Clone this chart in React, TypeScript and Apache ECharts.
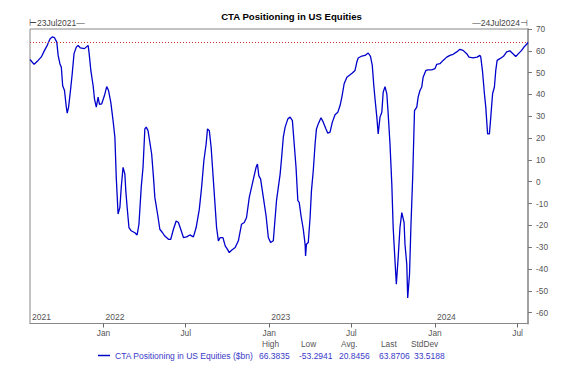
import React, { useEffect, useRef } from 'react';
import * as echarts from 'echarts';

const dates: string[] = [
  '2021-07-23','2021-08-01','2021-08-10','2021-08-17','2021-08-24','2021-08-30','2021-09-05','2021-09-10','2021-09-15','2021-09-20',
  '2021-09-23','2021-09-27','2021-09-30','2021-10-03','2021-10-07','2021-10-11','2021-10-13','2021-10-16','2021-10-21','2021-10-24',
  '2021-10-28','2021-11-02','2021-11-06','2021-11-11','2021-11-20','2021-11-28','2021-11-30','2021-12-04','2021-12-09','2021-12-12',
  '2021-12-16','2021-12-20','2021-12-23','2021-12-28','2022-01-03','2022-01-08','2022-01-12','2022-01-17','2022-01-22','2022-01-26',
  '2022-01-29','2022-02-02','2022-02-06','2022-02-09','2022-02-13','2022-02-17','2022-02-19','2022-02-22','2022-02-26','2022-03-03',
  '2022-03-11','2022-03-16','2022-03-20','2022-03-25','2022-03-29','2022-04-02','2022-04-05','2022-04-09','2022-04-17','2022-04-21',
  '2022-04-24','2022-04-30','2022-05-05','2022-05-11','2022-05-16','2022-05-24','2022-05-29','2022-06-04','2022-06-10','2022-06-15',
  '2022-06-20','2022-06-26','2022-07-03','2022-07-10','2022-07-18','2022-07-24','2022-07-31','2022-08-05','2022-08-10','2022-08-15',
  '2022-08-18','2022-08-22','2022-08-26','2022-08-29','2022-09-02','2022-09-07','2022-09-11','2022-09-15','2022-09-21','2022-09-26',
  '2022-10-01','2022-10-05','2022-10-10','2022-10-18','2022-10-25','2022-11-01','2022-11-07','2022-11-12','2022-11-18','2022-11-23',
  '2022-11-28','2022-12-03','2022-12-06','2022-12-09','2022-12-13','2022-12-19','2022-12-25','2022-12-30','2023-01-04','2023-01-10',
  '2023-01-17','2023-01-21','2023-01-25','2023-01-28','2023-02-01','2023-02-05','2023-02-11','2023-02-16','2023-02-21','2023-02-25',
  '2023-03-01','2023-03-05','2023-03-08','2023-03-12','2023-03-17','2023-03-21','2023-03-22','2023-03-24','2023-03-28','2023-04-01',
  '2023-04-04','2023-04-08','2023-04-12','2023-04-15','2023-04-19','2023-04-25','2023-04-30','2023-05-06','2023-05-10','2023-05-15',
  '2023-05-20','2023-05-26','2023-06-01','2023-06-06','2023-06-10','2023-06-15','2023-06-21','2023-06-26','2023-07-03','2023-07-09',
  '2023-07-13','2023-07-16','2023-07-24','2023-07-31','2023-08-07','2023-08-12','2023-08-16','2023-08-19','2023-08-22','2023-08-26',
  '2023-08-29','2023-09-02','2023-09-06','2023-09-09','2023-09-13','2023-09-17','2023-09-20','2023-09-24','2023-09-28','2023-10-01',
  '2023-10-05','2023-10-08','2023-10-12','2023-10-16','2023-10-20','2023-10-25','2023-10-27','2023-10-31','2023-11-02','2023-11-06',
  '2023-11-09','2023-11-13','2023-11-17','2023-11-22','2023-11-25','2023-11-29','2023-12-03','2023-12-06','2023-12-12','2023-12-17',
  '2023-12-25','2024-01-01','2024-01-05','2024-01-12','2024-01-19','2024-01-27','2024-02-03','2024-02-10','2024-02-18','2024-02-25',
  '2024-03-03','2024-03-11','2024-03-16','2024-03-25','2024-04-03','2024-04-09','2024-04-11','2024-04-15','2024-04-19','2024-04-22',
  '2024-04-26','2024-04-30','2024-05-03','2024-05-07','2024-05-11','2024-05-14','2024-05-17','2024-05-23','2024-05-31','2024-06-07',
  '2024-06-14','2024-06-22','2024-06-27','2024-07-03','2024-07-10','2024-07-15','2024-07-21','2024-07-24',
];

const values: number[] = [
  56.0, 53.8, 55.6, 57.2, 60.2, 62.5, 65.4, 66.38, 66.0, 64.0,
  57.9, 54.0, 52.5, 44.0, 41.8, 34.2, 31.4, 34.2, 43.4, 49.5,
  58.7, 61.7, 62.5, 61.3, 61.0, 62.5, 59.4, 51.0, 44.1, 38.0,
  34.2, 38.8, 35.4, 35.7, 39.5, 43.6, 41.8, 36.4, 28.0, 20.4,
  2.0, -14.8, -11.8, -2.6, 6.6, 3.5, -4.1, -11.8, -21.0, -22.5,
  -23.4, -24.4, -19.5, -2.6, 6.6, 24.2, 25.0, 23.4, 12.7, 2.0,
  -7.2, -14.8, -21.8, -23.4, -24.9, -26.4, -26.4, -21.8, -18.0, -18.7,
  -21.8, -25.6, -25.3, -24.4, -25.3, -21.0, -12.6, -2.6, 9.6, 17.3,
  24.2, 23.4, 15.8, 6.6, -5.7, -21.0, -27.1, -25.6, -25.6, -29.4,
  -31.0, -32.5, -31.4, -30.2, -27.1, -19.5, -18.7, -16.4, -7.2, -2.6,
  2.0, 6.6, 8.1, 2.8, 1.2, -7.2, -15.6, -25.6, -27.9, -27.1,
  -8.7, -2.6, 3.5, 10.4, 20.4, 25.0, 28.8, 29.6, 28.0, 17.3,
  6.6, -8.7, -9.5, -15.6, -21.8, -28.7, -34.0, -28.7, -27.9, -16.4,
  -4.1, 5.0, 17.3, 24.2, 26.5, 29.3, 27.3, 24.2, 22.2, 22.7,
  27.3, 30.7, 31.8, 34.9, 38.8, 44.9, 47.9, 48.7, 49.8, 51.0,
  54.9, 56.7, 57.6, 57.9, 59.0, 57.5, 53.3, 44.9, 38.0, 29.6,
  21.9, 29.6, 31.8, 41.0, 43.6, 40.3, 31.1, 17.3, -1.1, -21.0,
  -36.3, -47.0, -34.8, -21.0, -14.2, -18.7, -28.7, -37.9, -53.29, -42.4,
  -21.0, 2.0, 32.6, 34.2, 38.8, 41.8, 43.4, 47.9, 51.0, 51.3,
  51.3, 51.8, 53.8, 54.1, 55.6, 57.1, 57.9, 58.4, 59.5, 60.7,
  60.2, 58.7, 57.1, 56.8, 57.1, 57.9, 57.1, 50.2, 40.3, 34.2,
  21.9, 21.9, 29.6, 40.3, 43.4, 51.0, 55.6, 56.4, 57.5, 59.5,
  60.0, 58.4, 57.4, 58.7, 60.2, 61.7, 63.0, 63.87,
];

const seriesName = 'CTA Positioning in US Equities ($bn)';
const chartTitle = 'CTA Positioning in US Equities';
const startDate = '2021-07-23';
const endDate = '2024-07-24';
const startLabel = '\u22a223Jul2021\u2014';
const endLabel = '\u201424Jul2024\u22a3';
const monthTicks: string[] = ['2022-01-01', '2022-07-01', '2023-01-01', '2023-07-01', '2024-01-01', '2024-07-01'];
const yearTicks: string[] = ['2021-07-23', '2022-01-01', '2023-01-01', '2024-01-01'];
const yTicks: number[] = [-60, -50, -40, -30, -20, -10, 0, 10, 20, 30, 40, 50, 60, 70];
const lastValue = 63.8706;
const statLabels: string[] = ['High', 'Low', 'Avg.', 'Last', 'StdDev'];
const statValues: string[] = ['66.3835', '-53.2941', '20.8456', '63.8706', '33.5188'];

const toTs = (s: string) => {
  const [y, m, d] = s.split('-').map(Number);
  return Date.UTC(y, m - 1, d);
};

const FONT = '"Liberation Sans", Arial, sans-serif';

export default function App() {
  const ref = useRef<HTMLDivElement>(null);
  useEffect(() => {
    if (!ref.current) return;
    const chart = echarts.init(ref.current, undefined, { renderer: 'svg' });
    const data = dates.map((d, i) => [toTs(d), values[i]]);
    const headerX = [262, 301, 341, 381, 411];
    const valueX = [259, 299, 339, 379, 414];
    const graphics: any[] = [
      { type: 'text', left: 29, top: 18, style: { text: startLabel, fontSize: 8.5, fill: '#444', fontFamily: FONT } },
      { type: 'text', right: 55, top: 18, style: { text: endLabel, fontSize: 8.5, fill: '#444', fontFamily: FONT } },
    ];
    statLabels.forEach((l, i) => {
      graphics.push({ type: 'text', left: headerX[i], top: 340, style: { text: l, fontSize: 8.3, fill: '#555', fontFamily: FONT } });
      graphics.push({ type: 'text', left: valueX[i], top: 351, style: { text: statValues[i], fontSize: 8.5, fill: '#3a3ac8', fontFamily: FONT } });
    });
    const xMin = toTs(startDate);
    const xMax = toTs(endDate);
    chart.setOption({
      animation: false,
      backgroundColor: '#fff',
      title: {
        text: chartTitle,
        left: 'center',
        top: 11,
        padding: 0,
        textStyle: { fontSize: 9.6, fontWeight: 'bold', color: '#000', fontFamily: FONT },
      },
      legend: {
        left: 98,
        top: 351,
        padding: 0,
        icon: 'rect',
        itemWidth: 12,
        itemHeight: 1.5,
        itemGap: 2,
        textStyle: { fontSize: 8.5, color: '#3a3ac8', fontFamily: FONT },
        data: [seriesName],
      },
      grid: { left: 30, right: 55, top: 29, bottom: 43.5, containLabel: false, show: true, borderColor: '#888', borderWidth: 1 },
      xAxis: [
        {
          type: 'value',
          min: xMin,
          max: xMax,
          position: 'bottom',
          axisLine: { show: true, onZero: false, lineStyle: { color: '#888', width: 1 } },
          axisTick: { show: true, length: 4, customValues: monthTicks.map(toTs), lineStyle: { color: '#666' } },
          axisLabel: {
            customValues: monthTicks.map(toTs),
            formatter: (v: number) => (new Date(v).getUTCMonth() === 0 ? 'Jan' : 'Jul'),
            fontSize: 8.3,
            color: '#555',
            margin: 5,
            fontFamily: FONT,
          },
          splitLine: { show: false },
        },
        {
          type: 'value',
          min: xMin,
          max: xMax,
          position: 'bottom',
          axisLine: { show: false, onZero: false },
          axisTick: { show: false },
          axisLabel: {
            inside: true,
            customValues: yearTicks.map(toTs),
            formatter: (v: number) => String(new Date(v).getUTCFullYear()),
            align: 'left',
            fontSize: 8.5,
            color: '#555',
            margin: 2,
            padding: [0, 0, 0, 2],
            fontFamily: FONT,
          },
          splitLine: { show: false },
        },
      ],
      yAxis: {
        type: 'value',
        position: 'right',
        min: -65,
        max: 70,
        axisLine: { show: true, lineStyle: { color: '#a0a0a0', width: 2 } },
        axisTick: { show: true, length: 4, customValues: yTicks, lineStyle: { color: '#777' } },
        axisLabel: { customValues: yTicks, fontSize: 8.3, color: '#555', margin: 8, fontFamily: FONT },
        splitLine: { show: false },
      },
      series: [
        {
          name: seriesName,
          type: 'line',
          xAxisIndex: 0,
          data,
          showSymbol: false,
          symbol: 'none',
          lineStyle: { color: '#0000cc', width: 1.3 },
          itemStyle: { color: '#0000cc' },
          markLine: {
            silent: true,
            symbol: ['none', 'none'],
            label: { show: false },
            lineStyle: { color: '#d83030', type: [1, 2], width: 1 },
            data: [{ yAxis: lastValue }],
          },
        },
      ],
      graphic: graphics,
    });
    return () => chart.dispose();
  }, []);
  return <div ref={ref} style={{ position: 'fixed', left: 0, top: 0, width: 583, height: 367, background: '#fff' }} />;
}
